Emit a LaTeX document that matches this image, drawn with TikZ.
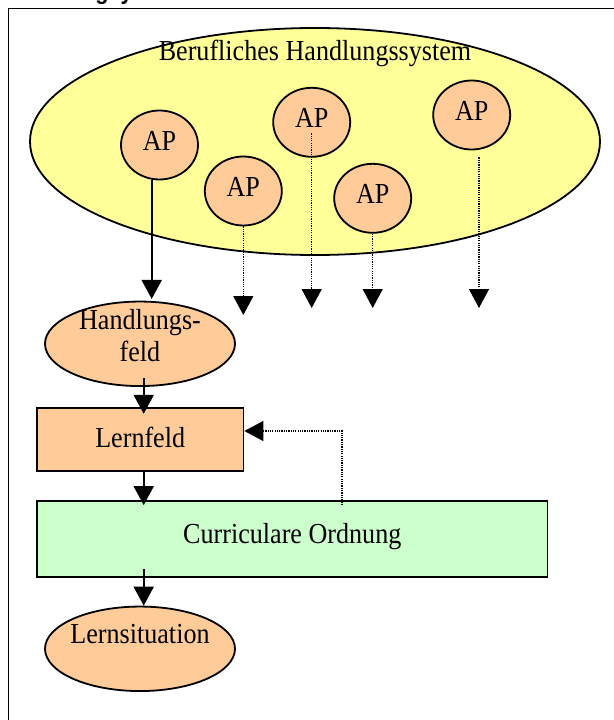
\documentclass[tikz,border=0pt]{standalone}
\usepackage{fontspec}
\setmainfont{Liberation Serif}[FakeStretch=0.9]
\newfontfamily\headfont{Liberation Sans}[FakeStretch=0.9]
\usetikzlibrary{arrows.meta,calc,shapes.geometric}

\definecolor{sysyellow}{HTML}{FFFF99}
\definecolor{apricot}{HTML}{FFCC99}
\definecolor{mint}{HTML}{CCFFCC}

\tikzset{
  base/.style={draw=black, line width=1.8pt},
  oval/.style={base, ellipse, inner sep=0pt, fill=apricot},
  apnode/.style={oval, minimum width=77pt, minimum height=69pt},
  boxnode/.style={base, rectangle, inner sep=0pt},
  flow/.style={line width=1.8pt, -{Triangle[width=20pt,length=19pt]}},
  hint/.style={line width=1.3pt, dash pattern=on 1.2pt off 1.1pt, -{Triangle[width=20pt,length=19pt]}},
  txt/.style={font=\fontsize{29}{31.7}\selectfont, inner sep=0pt, align=center},
}

\begin{document}
\begin{tikzpicture}[x=1pt, y=-1pt, txt]
\useasboundingbox (0,0) rectangle (613,720);
\fill[white] (0,0) rectangle (613,720);

% heading line above the frame, only its lower edge lies on the page
\node[font=\headfont\bfseries\fontsize{24}{24}\selectfont, anchor=base, inner sep=0pt] (heading) at (114,-1) {gsy};

% outer frame, running off the page to the right and bottom
\draw[line width=1.8pt] (8.5,760) -- (8.5,8.5) -- (660,8.5);

% work system
\node[base, ellipse, fill=sysyellow, minimum width=570pt, minimum height=227pt, inner sep=0pt,
      label={[name=sys-text, yshift=88pt]center:Berufliches Handlungssystem}] (sys) at (315,141.5) {};

% work processes
\node[apnode] (ap1) at (159.5,145) {\raisebox{9pt}{AP}};
\node[apnode] (ap2) at (243.3,191) {\raisebox{9pt}{AP}};
\node[apnode] (ap3) at (311.7,122.3) {\raisebox{9pt}{AP}};
\node[apnode] (ap4) at (372.7,198.3) {\raisebox{9pt}{AP}};
\node[apnode] (ap5) at (471.7,115) {\raisebox{9pt}{AP}};

% chain of curricular units
\node[oval, minimum width=190pt, minimum height=84.5pt,
      label={[name=hf-text, yshift=8pt, align=center]center:Handlungs-\\feld}] (hf) at (140,343.8) {};
\node[boxnode, fill=apricot, minimum width=206.5pt, minimum height=62.5pt] (lf) at (140.2,439.5) {\raisebox{4pt}{Lernfeld}};
\node[boxnode, fill=mint, minimum width=510.5pt, minimum height=76pt] (co) at (292.3,538.7) {\raisebox{10pt}{Curriculare Ordnung}};
\node[oval, minimum width=190pt, minimum height=84.5pt,
      label={[name=ls-text, yshift=15pt]center:Lernsituation}] (ls) at (140,648.8) {};

% open ends of the dotted arrows
\coordinate (e2) at (243.3,315);
\coordinate (e3) at (311.7,308);
\coordinate (e4) at (372.7,308);
\coordinate (e5) at (479,308);
\coordinate (fb) at (342,505);

% connectors
\draw[flow] ($(ap1.south)+(-7.8,-0.6)$) -- ($(hf.north)+(11.7,-1.7)$);
\draw[flow] ($(hf.south)+(3.7,-9)$) -- ($(lf.north)+(3.5,6.5)$);
\draw[flow] ($(lf.south)+(3.5,0)$) -- ($(co.north -| lf.south)+(3.5,5.3)$);
\draw[flow] ($(co.south -| lf.south)+(3.5,-8.7)$) -- ($(ls.north)+(3.7,0)$);

\draw[hint] (ap2.south) -- (e2);
\draw[hint] ($(ap3.center)+(0,11)$) -- (e3);
\draw[hint] (ap4.south) -- (e4);
\draw[hint] ($(ap5.south)+(7.3,7)$) -- (e5);
\draw[hint] (fb) |- ($(lf.east)+(0,-8.5)$);
\end{tikzpicture}
\end{document}
